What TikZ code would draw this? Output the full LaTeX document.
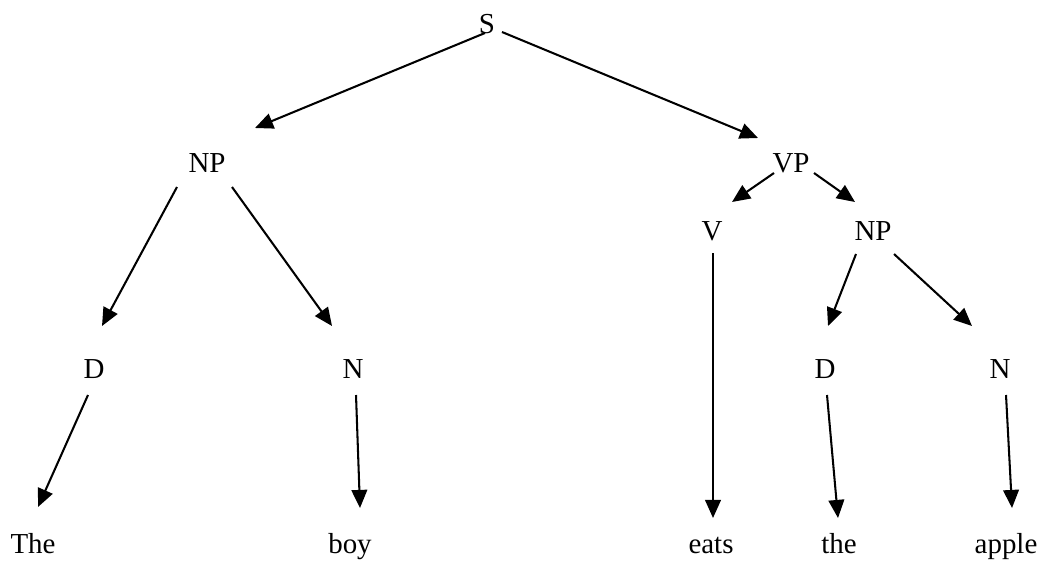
\documentclass[tikz,border=0pt]{standalone}
\usepackage{fontspec}
\setmainfont{Liberation Serif}
\usetikzlibrary{arrows.meta}

\begin{document}
\begin{tikzpicture}[x=0.1457cm,y=0.1457cm,
  word/.style={anchor=base,font=\fontsize{12}{14}\selectfont},
  edge/.style={black,line width=0.85pt,-{Triangle[length=7.5pt,width=6.5pt]}}]
\tikzstyle{every node}+=[inner sep=0pt]
\useasboundingbox (0,0) rectangle (104.3,-56.2);
\draw (48.7,-3.3) node (S) [word] {S};
\draw (20.7,-17.2) node (NP) [word] {NP};
\draw (79.1,-17.2) node (VP) [word] {VP};
\draw (71.2,-24.0) node (V) [word] {V};
\draw (87.3,-24.0) node (NPv) [word] {NP};
\draw (9.4,-37.8) node (D) [word] {D};
\draw (35.3,-37.8) node (N) [word] {N};
\draw (82.5,-37.8) node (Dv) [word] {D};
\draw (100.0,-37.8) node (Nv) [word] {N};
\draw (3.3,-55.3) node (the) [word] {The};
\draw (35.0,-55.3) node (boy) [word] {boy};
\draw (71.1,-55.3) node (eats) [word] {eats};
\draw (83.9,-55.3) node (thev) [word] {the};
\draw (100.6,-55.3) node (apple) [word] {apple};
\draw [edge] ([shift={(-0.2,0)}]S.base) -- ([shift={(4.8,4.4)}]NP.base);
\draw [edge] ([shift={(1.5,0.1)}]S.base) -- ([shift={(-3.3,3.4)}]VP.base);
\draw [edge] ([shift={(-3.0,-1.5)}]NP.base) -- ([shift={(0.8,5.2)}]D.base);
\draw [edge] ([shift={(2.5,-1.5)}]NP.base) -- ([shift={(-2.1,5.2)}]N.base);
\draw [edge] ([shift={(-1.7,-0.1)}]VP.base) -- ([shift={(2.0,3.8)}]V.base);
\draw [edge] ([shift={(2.3,-0.1)}]VP.base) -- ([shift={(-1.8,3.8)}]NPv.base);
\draw [edge] ([shift={(0.1,-1.3)}]V.base) -- ([shift={(0.2,3.5)}]eats.base);
\draw [edge] ([shift={(-1.7,-1.4)}]NPv.base) -- ([shift={(0.3,5.2)}]Dv.base);
\draw [edge] ([shift={(2.1,-1.4)}]NPv.base) -- ([shift={(-2.8,5.2)}]Nv.base);
\draw [edge] ([shift={(-0.6,-1.7)}]D.base) -- ([shift={(0.5,4.6)}]the.base);
\draw [edge] ([shift={(0.3,-1.7)}]N.base) -- ([shift={(1.0,4.5)}]boy.base);
\draw [edge] ([shift={(0.2,-1.7)}]Dv.base) -- ([shift={(-0.1,3.5)}]thev.base);
\draw [edge] ([shift={(0.6,-1.7)}]Nv.base) -- ([shift={(0.6,4.5)}]apple.base);
\end{tikzpicture}
\end{document}
